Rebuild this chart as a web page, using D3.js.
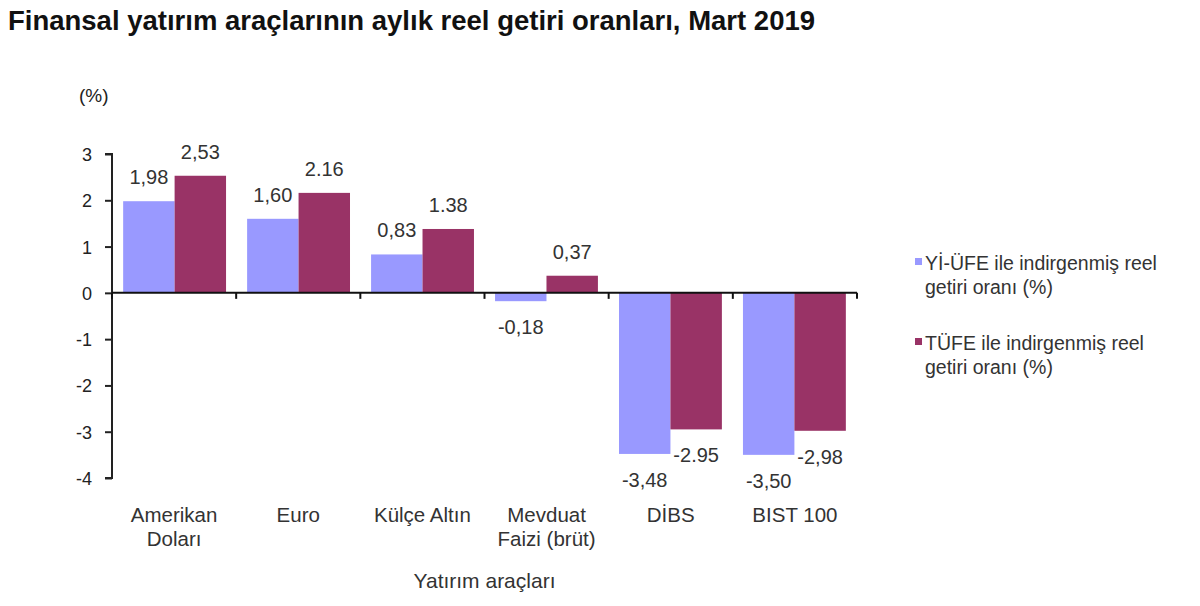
<!DOCTYPE html>
<html>
<head>
<meta charset="UTF-8">
<style>
  body { margin: 0; background: #fff; }
  svg { display: block; }
  text { font-family: 'Liberation Sans', Arial, sans-serif; fill: #222; }
</style>
</head>
<body>
<svg></svg>
<script src="https://d3js.org/d3.v7.min.js"></script>
<script>
// data
const categories = [["Amerikan", "Doları"], ["Euro"], ["Külçe Altın"], ["Mevduat", "Faizi (brüt)"], ["DİBS"], ["BIST 100"]];
const yiufe = [1.98, 1.60, 0.83, -0.18, -3.48, -3.50];
const tufe = [2.53, 2.16, 1.38, 0.37, -2.95, -2.98];
const yiufeLabels = ["1,98", "1,60", "0,83", "-0,18", "-3,48", "-3,50"];
const tufeLabels = ["2,53", "2.16", "1.38", "0,37", "-2.95", "-2,98"];
const yTicks = [3, 2, 1, 0, -1, -2, -3, -4];
const seriesNames = [["Yİ-ÜFE ile indirgenmiş reel", "getiri oranı (%)"], ["TÜFE ile indirgenmiş reel", "getiri oranı (%)"]];
const colors = ["#9999ff", "#993366"];

const width = 1200, height = 606;
const svg = d3.select("svg").attr("width", width).attr("height", height);

const x0 = 112, x1 = 857;
const y = d3.scaleLinear().domain([-4, 3]).range([478, 154]);
const x = d3.scaleBand().domain(d3.range(categories.length)).range([x0, x1]).paddingInner(0.17).paddingOuter(0.09);
const xs = d3.scaleBand().domain([0, 1]).range([0, x.bandwidth()]);

// title
svg.append("text").attr("x", 8).attr("y", 30)
  .style("font-weight", "bold").style("font-size", "27.5px").style("fill", "#111")
  .text("Finansal yatırım araçlarının aylık reel getiri oranları, Mart 2019");

svg.append("text").attr("x", 79).attr("y", 102).style("font-size", "19px").text("(%)");

// bars
const g = svg.append("g");
[yiufe, tufe].forEach((vals, s) => {
  g.selectAll(null).data(vals).enter().append("rect")
    .attr("x", (d, i) => x(i) + xs(s))
    .attr("width", xs.bandwidth())
    .attr("y", d => y(Math.max(0, d)))
    .attr("height", d => Math.abs(y(d) - y(0)))
    .attr("fill", colors[s]);
});

// value labels
[[yiufe, yiufeLabels], [tufe, tufeLabels]].forEach(([vals, labs], s) => {
  g.selectAll(null).data(vals).enter().append("text")
    .attr("x", (d, i) => x(i) + xs(s) + xs.bandwidth() / 2)
    .attr("y", d => d >= 0 ? y(d) - 17 : y(d) + 33)
    .attr("text-anchor", "middle").style("font-size", "20px").style("fill", "#333")
    .text((d, i) => labs[i]);
});

// y axis
const yAxis = svg.append("g").attr("transform", `translate(${x0},0)`)
  .call(d3.axisLeft(y).tickValues(yTicks).tickSize(7).tickFormat(d => String(d)));
yAxis.select(".domain").attr("stroke", "#222").attr("stroke-width", 2).attr("d", `M-7,${y(3)}H0V${y(-4)}H-7`);
yAxis.selectAll(".tick line").attr("stroke", "#222").attr("stroke-width", 2);
yAxis.selectAll(".tick text").attr("x", -20).attr("dy", "0.36em").style("font-size", "18px")
  .style("font-family", "'Liberation Sans', Arial, sans-serif").style("fill", "#222");

// x axis at zero
const bounds = d3.range(categories.length + 1).map(i => x0 + (x1 - x0) * i / categories.length);
svg.append("line").attr("x1", x0).attr("x2", x1).attr("y1", y(0)).attr("y2", y(0))
  .attr("stroke", "#111").attr("stroke-width", 2);
svg.selectAll(null).data(bounds).enter().append("line")
  .attr("x1", d => d).attr("x2", d => d).attr("y1", y(0)).attr("y2", y(0) + 6)
  .attr("stroke", "#111").attr("stroke-width", 2);

// category labels
categories.forEach((lines, i) => {
  const cx = (bounds[i] + bounds[i + 1]) / 2;
  const t = svg.append("text").attr("x", cx).attr("y", 522)
    .attr("text-anchor", "middle").style("font-size", "20.5px").style("fill", "#333");
  lines.forEach((s, j) => {
    t.append("tspan").attr("x", cx).attr("dy", j === 0 ? 0 : 24).text(s);
  });
});

svg.append("text").attr("x", (x0 + x1) / 2).attr("y", 588).attr("text-anchor", "middle")
  .style("font-size", "21px").style("fill", "#333").text("Yatırım araçları");

// legend
seriesNames.forEach((lines, s) => {
  const ly = 270 + s * 80;
  svg.append("rect").attr("x", 915).attr("y", ly - 12).attr("width", 7).attr("height", 7).attr("fill", colors[s]);
  const t = svg.append("text").attr("x", 925).attr("y", ly)
    .style("font-size", "19.5px").style("fill", "#333");
  lines.forEach((line, j) => {
    t.append("tspan").attr("x", 925).attr("dy", j === 0 ? 0 : 23.5).text(line);
  });
});
</script>
</body>
</html>
